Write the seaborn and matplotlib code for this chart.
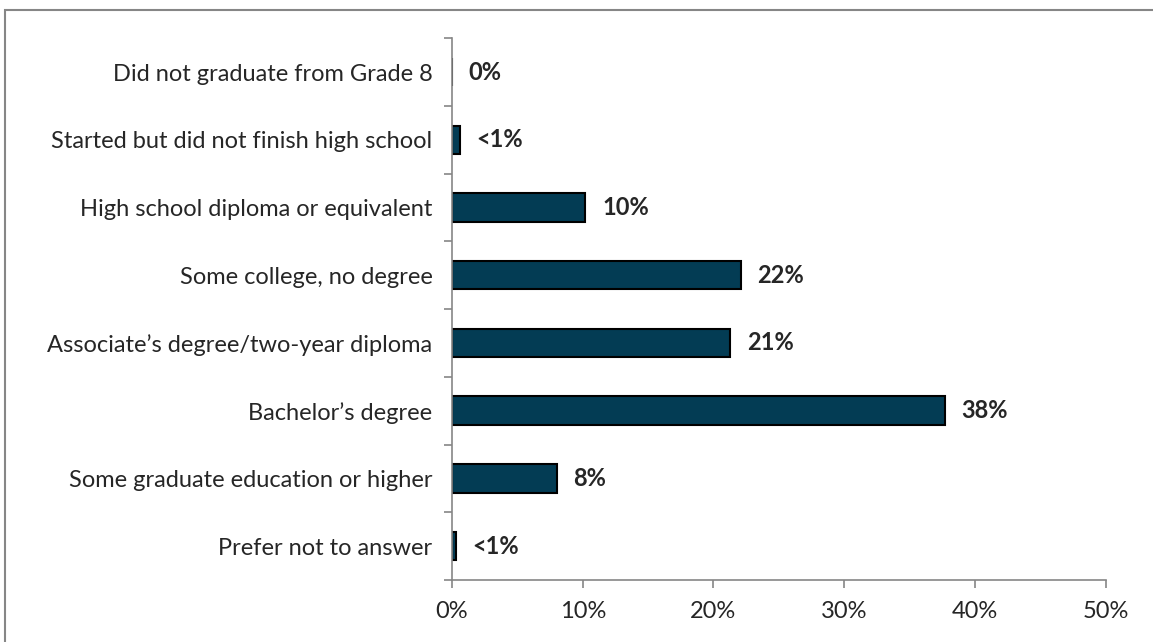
import pandas as pd
import matplotlib.pyplot as plt
import seaborn as sns
from matplotlib.patches import Rectangle

# Data
categories = ["Did not graduate from Grade 8",
              "Started but did not finish high school",
              "High school diploma or equivalent",
              "Some college, no degree",
              "Associate\u2019s degree/two-year diploma",
              "Bachelor\u2019s degree",
              "Some graduate education or higher",
              "Prefer not to answer"]
values = [0.0, 0.6, 10.2, 22.1, 21.3, 37.7, 8.0, 0.3]
value_labels = ["0%", "<1%", "10%", "22%", "21%", "38%", "8%", "<1%"]
xticks = [0, 10, 20, 30, 40, 50]

df = pd.DataFrame({"Education": categories, "Percent": values})

sns.set_style("white")
plt.rcParams['font.family'] = ['Lato', 'DejaVu Sans']

fig = plt.figure(figsize=(11.53, 6.42), dpi=100)
ax = fig.add_axes([0.392, 0.0966, 0.567, 0.844])

sns.barplot(data=df, x="Percent", y="Education", orient="h", color="#033C54",
            width=0.42, edgecolor="black", linewidth=1.5, saturation=1, ax=ax)

# Value labels
for i, (v, lab) in enumerate(zip(values, value_labels)):
    ax.annotate(lab, xy=(v, i), xytext=(12, 0), textcoords="offset points",
                va="center", ha="left", fontsize=17, fontweight="bold")

ax.set_xlim(0, 50)
ax.set_ylim(len(categories) - 0.5, -0.5)
ax.set_xticks(xticks)
ax.set_xticklabels([f"{t}%" for t in xticks], fontsize=17)
ax.set_yticks(range(len(categories)))
ax.set_yticklabels(categories, fontsize=17)
ax.tick_params(axis="y", length=0, pad=14)
ax.set_yticks([i + 0.5 for i in range(-1, len(categories))], minor=True)
ax.tick_params(axis="y", which="minor", length=6, color="#868686", width=1.2)
ax.tick_params(axis="x", length=6, color="#868686", width=1.2, pad=9, direction="out")
ax.xaxis.set_ticks_position("bottom")
ax.yaxis.set_ticks_position("left")
ax.set_xlabel("")
ax.set_ylabel("")

for s in ["top", "right"]:
    ax.spines[s].set_visible(False)
for s in ["left", "bottom"]:
    ax.spines[s].set_color("#868686")
    ax.spines[s].set_linewidth(1.2)

# Outer border of the chart area
fig.patches.append(Rectangle((5 / 1153, -0.1), 1.2, 1 - 9.5 / 642 + 0.1,
                             transform=fig.transFigure, fill=False,
                             edgecolor="#868686", linewidth=1.5))

fig.savefig("out.png", dpi=100)
